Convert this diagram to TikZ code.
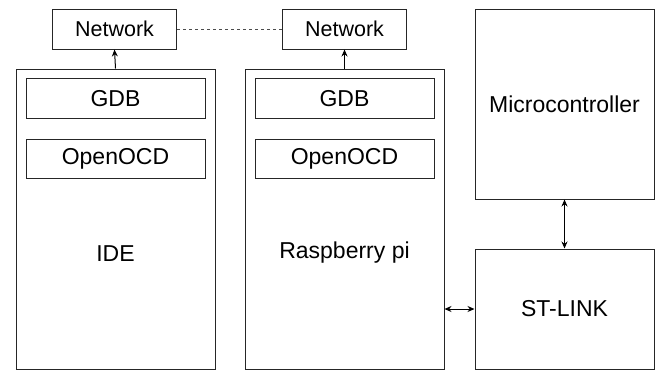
\documentclass[tikz,border=0pt]{standalone}
\usepackage{fontspec}
\setmainfont{Liberation Sans}
\usepackage{tikz}
\usetikzlibrary{shapes,arrows,arrows.meta,positioning,calc}

\tikzset{
  box/.style={draw=black!85,line width=1pt,inner sep=0pt,font=\fontsize{23}{27}\selectfont},
  netbox/.style={box,minimum width=124pt,minimum height=40pt,font=\fontsize{21.5}{25}\selectfont},
  toolbox/.style={box,minimum width=179pt,minimum height=39.5pt},
  hostbox/.style={box,minimum width=199pt,minimum height=300pt},
  link/.style={line width=1pt,-{Stealth[length=7pt,width=6pt]}},
  twolink/.style={line width=1pt,{Stealth[length=7pt,width=6pt]}-{Stealth[length=7pt,width=6pt]}}
}

\begin{document}
\begin{tikzpicture}[x=1pt,y=-1pt]
        \useasboundingbox (0,0) rectangle (664,370);
        % network side
        \node [netbox] (net1) at (114.5,29) {Network};
        \node [netbox] (net2) at (344.5,29) {Network};
        \draw [dashed,thin,black!70] (net1) -- (net2);
        % IDE host
        \node [hostbox] (ide) at (115.5,219) {};
        \node [toolbox] (gdb1) at (115.5,98.5) {GDB};
        \node [toolbox] (ocd1) at (115.5,159) {OpenOCD};
        \node [font=\fontsize{23}{27}\selectfont] (idelabel) at (115.5,254) {IDE};
        % Raspberry pi host
        \node [hostbox] (rpi) at (344.5,219) {};
        \node [toolbox] (gdb2) at (344.5,98.5) {GDB};
        \node [toolbox] (ocd2) at (344.5,159) {OpenOCD};
        \node [font=\fontsize{23}{27}\selectfont] (rpilabel) at (344.5,253) {Raspberry pi};
        % target side
        \node [box,minimum width=179pt,minimum height=190pt] (mcu) at (564.5,104) {Microcontroller};
        \node [box,minimum width=179pt,minimum height=120pt] (stlink) at (564.5,309) {ST-LINK};
        % connections
        \draw [link] (ide.north) -- (net1.south);
        \draw [link] (rpi.north) -- (net2.south);
        \draw [twolink] (mcu.south) -- (stlink.north);
        \draw [twolink] (rpi.east |- stlink.west) -- (stlink.west);
      \end{tikzpicture}
\end{document}
